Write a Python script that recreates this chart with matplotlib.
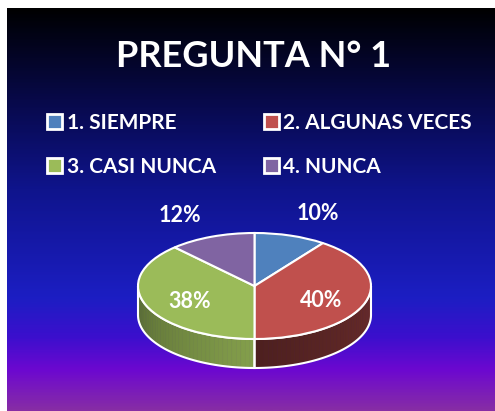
import numpy as np
import matplotlib
matplotlib.use("Agg")
import matplotlib.pyplot as plt
from matplotlib.colors import LinearSegmentedColormap, to_rgb
from matplotlib.patches import Patch, Polygon

# data
title = "PREGUNTA N° 1"
categories = ["1. SIEMPRE", "2. ALGUNAS VECES", "3. CASI NUNCA", "4. NUNCA"]
values = [10, 40, 38, 12]
colors = ["#4F81BD", "#C0504D", "#9BBB59", "#8064A2"]
# side wall shading (light end, dark end) per slice
side_shade = [(0.6, 0.45), (0.55, 0.4), (0.85, 0.57), (0.6, 0.45)]

W, H = 495, 411
plt.rcParams["font.family"] = ["Lato", "DejaVu Sans"]

fig = plt.figure(figsize=(W / 100, H / 100), dpi=100)
fig.patch.set_facecolor("white")

# gradient background of the chart area
bg = fig.add_axes([7 / W, 0, 1 - 7 / W, 1 - 8 / H])
bg.set_axis_off()
stops = [(0.0, (0, 0, 0)), (0.25, (8, 10, 80)), (0.45, (15, 20, 140)),
         (0.72, (28, 30, 195)), (0.82, (60, 15, 205)), (0.9, (108, 8, 208)),
         (1.0, (135, 45, 165))]
cmap = LinearSegmentedColormap.from_list("bg", [(p, np.array(c) / 255) for p, c in stops])
bg.imshow(np.linspace(0, 1, 400).reshape(-1, 1), cmap=cmap, aspect="auto",
          extent=[0, 1, 1, 0])
bg.set_xlim(0, 1)
bg.set_ylim(1, 0)

# pie axes: x unit = pie half width, y unit = pie half height (pixels)
cx, cy, rx, ry, depth = 254.5, 286, 116.5, 53, 29
ax = fig.add_axes([0, 0, 1, 1])
wedges, _ = ax.pie(values, colors=colors, startangle=90, counterclock=False,
                   wedgeprops=dict(edgecolor="white", linewidth=1.5, zorder=3))
ax.set_aspect("auto")
ax.set_xlim(-cx / rx, (W - cx) / rx)
ax.set_ylim(-(H - cy) / ry, cy / ry)
ax.set_axis_off()

d = depth / ry
for w, col, (hi, lo) in zip(wedges, colors, side_shade):
    # visible part of the side wall is the front half (-180..0 deg)
    a, b = max(w.theta1, -180), min(w.theta2, 0)
    if a >= b:
        continue
    base = np.array(to_rgb(col))
    n = 40
    edges = np.linspace(b, a, n + 1)  # left to right
    for i in range(n):
        t = np.radians(np.linspace(edges[i], edges[i + 1], 5))
        xs, ys = np.cos(t), np.sin(t)
        pts = np.concatenate([np.c_[xs, ys], np.c_[xs[::-1], ys[::-1] - d]])
        f = hi + (lo - hi) * (i + 0.5) / n
        ax.add_patch(Polygon(pts, closed=True, facecolor=base * f,
                             edgecolor=base * f, linewidth=0.5, zorder=2))
    t = np.radians(np.linspace(b, a, 60))
    xs, ys = np.cos(t), np.sin(t)
    pts = np.concatenate([np.c_[xs, ys], np.c_[xs[::-1], ys[::-1] - d]])
    ax.add_patch(Polygon(pts, closed=True, facecolor="none", edgecolor="white",
                         linewidth=1.5, zorder=2.5))

# percentage labels
total = sum(values)
for w, v in zip(wedges, values):
    mid = np.radians((w.theta1 + w.theta2) / 2)
    inside = v / total > 0.2
    r = 0.6 if inside else 1.52
    x = r * np.cos(mid) * (1.0 if inside else 1.15)
    y = r * np.sin(mid) - 0.08
    ax.text(x, y, f"{v / total:.0%}", color="white", fontsize=15.5,
            fontweight="bold", ha="center", va="center", zorder=5)

fig.text(254 / W, 1 - 56 / H, title, color="white", fontsize=26,
         fontweight="bold", ha="center", va="center")

# legend fills column-wise, so reorder to read row by row
order = [0, 2, 1, 3]
handles = [Patch(facecolor=colors[i], edgecolor="white", linewidth=2) for i in order]
fig.legend(handles, [categories[i] for i in order], ncol=2, loc="upper left",
           bbox_to_anchor=(28 / W, 1 - 94 / H), frameon=False,
           prop=dict(size=15, weight="bold"), labelcolor="white",
           handlelength=0.75, handleheight=0.75, handletextpad=0.2,
           columnspacing=2.3, labelspacing=1.15)

fig.savefig("out.png", dpi=100)
